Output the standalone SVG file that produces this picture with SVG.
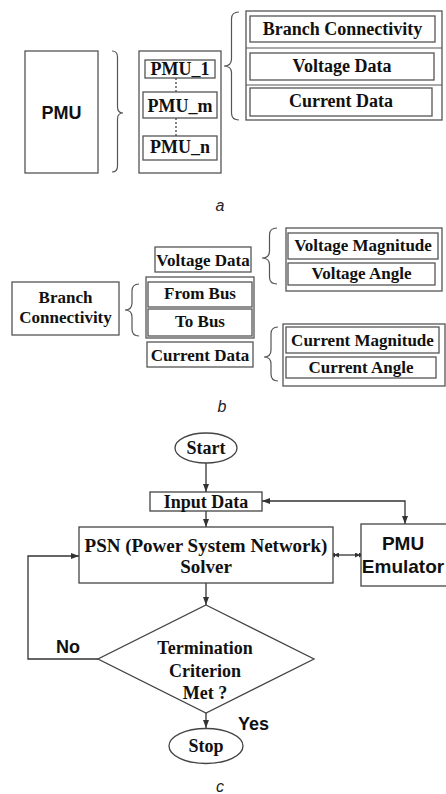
<svg xmlns="http://www.w3.org/2000/svg" width="446" height="794" viewBox="0 0 446 794">
<style>
.box{fill:#fff;stroke:#555;stroke-width:1.3}
.fc{fill:#fff;stroke:#444;stroke-width:1.3}
.brace{fill:none;stroke:#555;stroke-width:1.2}
.line{fill:none;stroke:#333;stroke-width:1.3}
.s{font-family:"Times New Roman","Liberation Serif",serif;font-weight:bold;text-anchor:middle;fill:#111}
.a{font-family:Arial,"Liberation Sans",sans-serif;font-weight:bold;fill:#111}
.cap{font-family:Arial,"Liberation Sans",sans-serif;font-style:italic;font-size:16px;text-anchor:middle;fill:#222}
</style>
<defs>
<marker id="ah" markerUnits="userSpaceOnUse" markerWidth="8" markerHeight="6" refX="8" refY="3" orient="auto-start-reverse"><path d="M0,0 L8,3 L0,6 z" fill="#333"/></marker>
<marker id="dah" markerUnits="userSpaceOnUse" markerWidth="10" markerHeight="5" refX="6" refY="2.5" orient="auto-start-reverse"><path d="M0,0 L5,2.5 L0,5 z M4,0 L9,2.5 L4,5 z" fill="#333"/></marker>
</defs>
<rect width="446" height="794" fill="#fff"/>

<!-- Part a -->
<g id="a-pmu"><rect class="box" x="25" y="51" width="73" height="122"/><text class="a" x="61.5" y="119" font-size="18" text-anchor="middle">PMU</text></g>
<path class="brace" d="M112,51 Q117.5,51 117.5,57 L117.5,107 Q117.5,113 123,113 Q117.5,113 117.5,119 L117.5,166 Q117.5,172 112,172"/>
<g id="a-pmulist">
<rect class="box" x="139" y="51" width="82" height="122"/>
<line x1="176" y1="78" x2="176" y2="92" stroke="#333" stroke-width="1.2" stroke-dasharray="2,2"/>
<line x1="176" y1="118" x2="176" y2="136" stroke="#333" stroke-width="1.2" stroke-dasharray="2,2"/>
<g id="pmu1"><rect class="box" x="145" y="60" width="70" height="18"/><text class="s" x="180" y="75" font-size="18">PMU_1</text></g>
<g id="pmum"><rect class="box" x="143" y="92" width="74" height="26"/><text class="s" x="180" y="112" font-size="18">PMU_m</text></g>
<g id="pmun"><rect class="box" x="143" y="136" width="74" height="24"/><text class="s" x="180" y="153" font-size="18">PMU_n</text></g>
</g>
<path class="brace" d="M239,12 Q231.5,12 231.5,19 L231.5,59 Q231.5,66 224,66 Q231.5,66 231.5,73 L231.5,113 Q231.5,120 239,120"/>
<g id="a-data">
<rect class="box" x="246" y="11" width="196" height="109"/>
<line x1="246" y1="48" x2="442" y2="48" stroke="#555" stroke-width="1.2"/>
<line x1="246" y1="85" x2="442" y2="85" stroke="#555" stroke-width="1.2"/>
<g id="a-branch"><rect class="box" x="250" y="16" width="185" height="26"/><text class="s" x="342.5" y="35" font-size="18">Branch Connectivity</text></g>
<g id="a-voltage"><rect class="box" x="250" y="53" width="184" height="27"/><text class="s" x="342" y="72" font-size="18">Voltage Data</text></g>
<g id="a-current"><rect class="box" x="250" y="88" width="182" height="28"/><text class="s" x="341" y="107" font-size="18">Current Data</text></g>
</g>
<text class="cap" x="220" y="211">a</text>

<!-- Part b -->
<g id="b-voltage"><rect class="box" x="155" y="247" width="96" height="25"/><text class="s" x="203" y="266" font-size="17">Voltage Data</text></g>
<path class="brace" d="M277,228 Q269.5,228 269.5,235 L269.5,251 Q269.5,258 262,258 Q269.5,258 269.5,265 L269.5,277 Q269.5,284 277,284"/>
<g id="b-vcomp">
<rect class="box" x="286" y="228" width="156" height="63"/>
<g id="b-vmag"><rect class="box" x="288" y="233" width="150" height="26"/><text class="s" x="363" y="251" font-size="17">Voltage Magnitude</text></g>
<g id="b-vang"><rect class="box" x="288" y="263" width="147" height="22"/><text class="s" x="361.5" y="279" font-size="17">Voltage Angle</text></g>
</g>
<g id="b-branch"><rect class="box" x="12" y="282" width="107" height="53"/><text class="s" x="65.5" y="303" font-size="17">Branch</text><text class="s" x="65.5" y="323" font-size="17">Connectivity</text></g>
<path class="brace" d="M139,284 Q132,284 132,291 L132,303 Q132,310 125,310 Q132,310 132,317 L132,329 Q132,336 139,336"/>
<g id="b-bus">
<rect class="box" x="146" y="277" width="108" height="61"/>
<g id="b-from"><rect class="box" x="148" y="282" width="104" height="25"/><text class="s" x="200" y="299" font-size="17">From Bus</text></g>
<g id="b-to"><rect class="box" x="148" y="309" width="104" height="27"/><text class="s" x="200" y="327" font-size="17">To Bus</text></g>
</g>
<g id="b-current"><rect class="box" x="147" y="342" width="106" height="25"/><text class="s" x="200" y="361" font-size="17">Current Data</text></g>
<path class="brace" d="M278,327 Q271,327 271,334 L271,350 Q271,357 264,357 Q271,357 271,364 L271,374 Q271,381 278,381"/>
<g id="b-ccomp">
<rect class="box" x="283" y="324" width="162" height="62"/>
<g id="b-cmag"><rect class="box" x="286" y="327" width="153" height="26"/><text class="s" x="362.5" y="346" font-size="17">Current Magnitude</text></g>
<g id="b-cang"><rect class="box" x="286" y="357" width="150" height="21"/><text class="s" x="361" y="373" font-size="17">Current Angle</text></g>
</g>
<text class="cap" x="222" y="412">b</text>

<!-- Part c -->
<g id="connectors">
<line class="line" x1="206" y1="463" x2="206" y2="492" marker-end="url(#ah)"/>
<line class="line" x1="206" y1="511" x2="206" y2="527" marker-end="url(#ah)"/>
<path class="line" d="M262,501 H405 V524" marker-start="url(#ah)" marker-end="url(#ah)"/>
<line class="line" x1="333" y1="555" x2="361" y2="555" marker-start="url(#dah)" marker-end="url(#dah)"/>
<line class="line" x1="206" y1="583" x2="206" y2="605" marker-end="url(#ah)"/>
<path class="line" d="M98,659 H28 V556 H79" marker-end="url(#ah)"/>
<line class="line" x1="206" y1="713" x2="206" y2="728" marker-end="url(#ah)"/>
<text class="a" x="68" y="653" font-size="18" text-anchor="middle">No</text>
<text class="a" x="238" y="730" font-size="18">Yes</text>
</g>
<g id="start"><ellipse class="fc" cx="206" cy="448" rx="31" ry="15"/><text class="s" x="206" y="454" font-size="18">Start</text></g>
<g id="input"><rect class="fc" x="150" y="492" width="112" height="19"/><text class="s" x="206" y="508" font-size="18">Input Data</text></g>
<g id="psn"><rect class="fc" x="79" y="527" width="254" height="56"/><text class="s" x="206" y="552" font-size="19">PSN (Power System Network)</text><text class="s" x="206" y="573" font-size="19">Solver</text></g>
<g id="emulator"><rect class="fc" x="361" y="524" width="90" height="62"/><text class="a" x="403" y="550" font-size="19" text-anchor="middle">PMU</text><text class="a" x="403" y="573" font-size="19" text-anchor="middle">Emulator</text></g>
<g id="decision"><polygon class="fc" points="206,605 314,659 206,713 98,659"/><text class="s" x="205" y="654" font-size="18">Termination</text><text class="s" x="205" y="677" font-size="18">Criterion</text><text class="s" x="205" y="699" font-size="18">Met ?</text></g>
<g id="stop"><ellipse class="fc" cx="206" cy="746" rx="37" ry="17.5"/><text class="s" x="206" y="752" font-size="18">Stop</text></g>
<text class="cap" x="220" y="792">c</text>
</svg>
